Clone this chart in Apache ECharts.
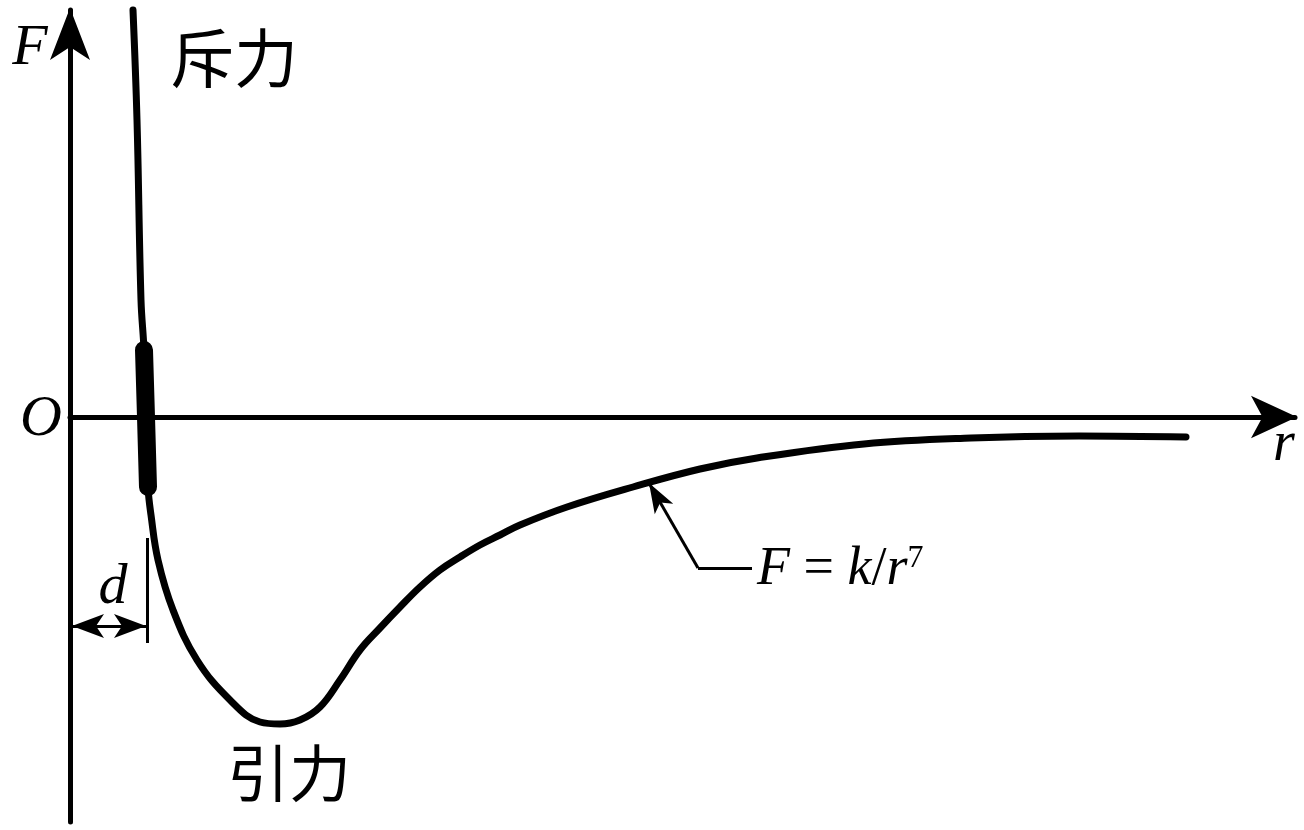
<!DOCTYPE html>
<html>
<head>
<meta charset="utf-8">
<script src="https://cdn.jsdelivr.net/npm/echarts@6/dist/echarts.min.js"></script>
<style>
html,body{margin:0;padding:0;background:#fff;}
#chart{width:1304px;height:830px;}
</style>
</head>
<body>
<div id="chart"></div>
<script>
// Force curve F(r) (arbitrary units)
const curveR = [0.63, 0.67, 0.71, 0.74, 0.76, 0.78, 0.81, 0.88, 1.03, 1.27, 1.60, 1.90, 2.10, 2.30, 2.50, 2.70, 2.90, 3.10, 3.30, 3.50, 3.70, 3.90, 4.10, 4.30, 4.50, 4.97, 5.63, 6.30, 6.87, 7.94, 9.01, 10.09, 11.16];
const curveF = [4.07, 2.97, 1.17, 0.67, 0.00, -0.70, -0.98, -1.43, -1.93, -2.43, -2.83, -3.05, -3.07, -3.03, -2.90, -2.63, -2.33, -2.11, -1.90, -1.70, -1.53, -1.40, -1.28, -1.18, -1.08, -0.90, -0.70, -0.52, -0.41, -0.27, -0.21, -0.19, -0.20];
// thick segment of the curve around F = 0
const thickR = [0.74, 0.76, 0.78];
const thickF = [0.67, 0.00, -0.70];

// axis ranges
const rRange = [0, 12.25];
const fRange = [-4.05, 4.07];

// annotation anchors (data units)
const dArrowR = [0.02, 0.76];
const dArrowF = -2.09;
const dTickR = 0.77;
const dTickF = [-1.21, -2.26];
const leaderElbow = [6.28, -1.51];
const leaderTip = [5.79, -0.66];
const leaderEndR = 6.82;

// texts
const labelF = 'F';
const labelO = 'O';
const labelR = 'r';
const labelD = 'd';
const labelRepulsion = '斥力';
const labelAttraction = '引力';
const formulaText = '{i|F}{n| = }{i|k}{n|/}{i|r}{s|7}';

const curveData = curveR.map((r, i) => [r, curveF[i]]);
const thickData = thickR.map((r, i) => [r, thickF[i]]);

const thin = {color: '#000', width: 3, type: 'solid'};

// 'arrow' symbol: tip sits on the data point, body extends backwards
function arrowHead(point, size, rotate) {
  return {
    type: 'scatter', silent: true, clip: false, z: 5,
    symbol: 'arrow', symbolSize: size, symbolRotate: rotate,
    itemStyle: {color: '#000', opacity: 1},
    emphasis: {disabled: true},
    data: [point]
  };
}

const chart = echarts.init(document.getElementById('chart'), null, {renderer: 'canvas'});
chart.setOption({
  backgroundColor: '#fff',
  animation: false,
  grid: {left: 70, right: 9, top: 10, bottom: 8, containLabel: false},
  xAxis: {
    type: 'value', min: rRange[0], max: rRange[1],
    axisLine: {show: true, onZero: true, symbol: ['none', 'arrow'], symbolSize: [32, 46], symbolOffset: [0, 2],
      lineStyle: {color: '#000', width: 5}},
    axisTick: {show: false}, axisLabel: {show: false}, splitLine: {show: false}
  },
  yAxis: {
    type: 'value', min: fRange[0], max: fRange[1],
    axisLine: {show: true, onZero: false, symbol: ['none', 'arrow'], symbolSize: [30, 52], symbolOffset: [0, 2],
      lineStyle: {color: '#000', width: 5}},
    axisTick: {show: false}, axisLabel: {show: false}, splitLine: {show: false}
  },
  series: [
    {
      type: 'line', data: curveData, smooth: 0.4, symbol: 'none', clip: false, silent: true,
      lineStyle: {color: '#000', width: 7, cap: 'round', join: 'round'},
      z: 3,
      markLine: {
        silent: true, animation: false, label: {show: false}, symbol: ['none', 'none'],
        emphasis: {disabled: true},
        lineStyle: thin,
        data: [
          [{coord: [dArrowR[0], dArrowF]}, {coord: [dArrowR[1], dArrowF]}],
          [{coord: [dTickR, dTickF[0]]}, {coord: [dTickR, dTickF[1]]}],
          [{coord: leaderElbow}, {coord: leaderTip}],
          [{coord: leaderElbow}, {coord: [leaderEndR, leaderElbow[1]]}]
        ]
      }
    },
    {
      type: 'line', data: thickData, smooth: false, symbol: 'none', clip: false, silent: true,
      lineStyle: {color: '#000', width: 18, cap: 'round', join: 'round'},
      z: 4
    },
    arrowHead([dArrowR[0], dArrowF], [18, 32], 90),
    arrowHead([dArrowR[1], dArrowF], [18, 32], -90),
    arrowHead(leaderTip, [16, 30], 30)
  ],
  graphic: [
    {type: 'text', x: 30, y: 49, style: {text: labelF, font: 'italic 58px "Liberation Serif"', fill: '#000', align: 'center', verticalAlign: 'middle'}},
    {type: 'text', x: 41, y: 420, style: {text: labelO, font: 'italic 58px "Liberation Serif"', fill: '#000', align: 'center', verticalAlign: 'middle'}},
    {type: 'text', x: 1284, y: 445, style: {text: labelR, font: 'italic 56px "Liberation Serif"', fill: '#000', align: 'center', verticalAlign: 'middle'}},
    {type: 'text', x: 113, y: 588, style: {text: labelD, font: 'italic 58px "Liberation Serif"', fill: '#000', align: 'center', verticalAlign: 'middle'}},
    {type: 'text', x: 234, y: 58, style: {text: labelRepulsion, font: '64px "Noto Sans CJK SC"', fill: '#000', align: 'center', verticalAlign: 'middle'}},
    {type: 'text', x: 289, y: 773, style: {text: labelAttraction, font: '62px "Noto Sans CJK SC"', fill: '#000', align: 'center', verticalAlign: 'middle'}},
    {type: 'text', x: 757, y: 570, style: {
      text: formulaText, fill: '#000', align: 'left', verticalAlign: 'middle',
      rich: {
        i: {font: 'italic 54px "Liberation Serif"', fill: '#000'},
        n: {font: '54px "Liberation Serif"', fill: '#000'},
        s: {font: '32px "Liberation Serif"', fill: '#000', verticalAlign: 'top'}
      }
    }}
  ]
});
</script>
</body>
</html>
